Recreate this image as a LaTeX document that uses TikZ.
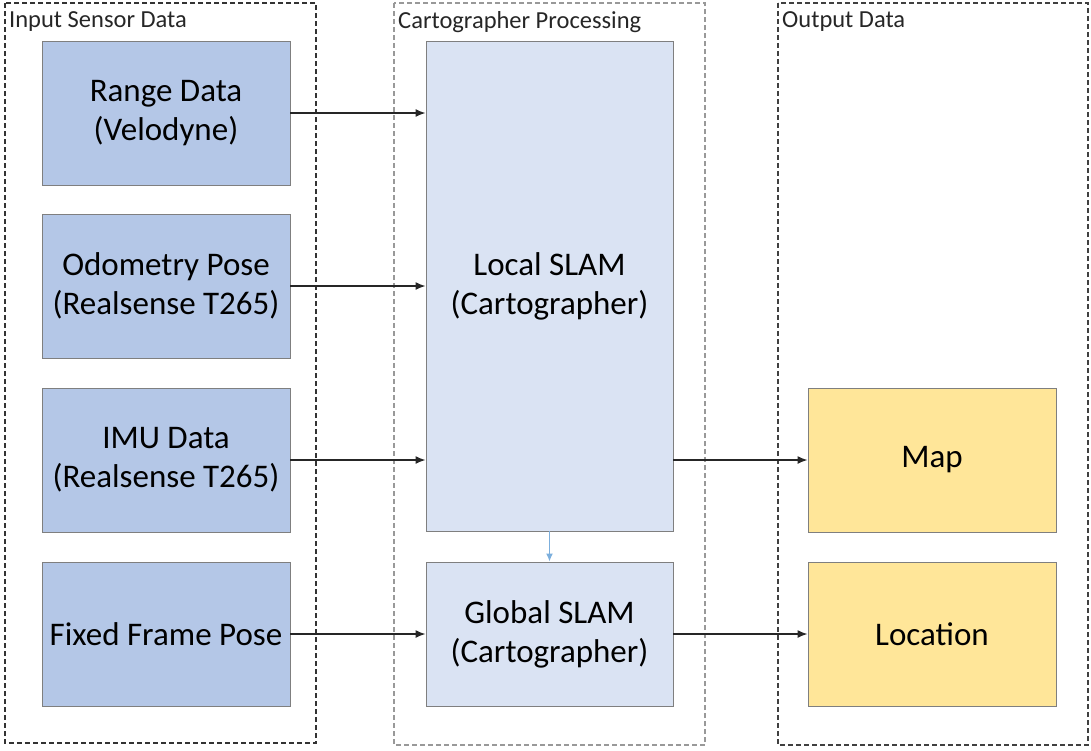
\documentclass[tikz,border=0pt]{standalone}
\usepackage{fontspec}
\setmainfont{Carlito}
\usetikzlibrary{arrows.meta}
\definecolor{inblue}{HTML}{B4C7E7}
\definecolor{midblue}{HTML}{DAE3F3}
\definecolor{outyel}{HTML}{FFE699}
\definecolor{edgegray}{HTML}{7F7F7F}
\definecolor{arrblue}{HTML}{5B9BD5}
\tikzset{
  container/.style={draw=#1, dashed, line width=1.1pt, dash pattern=on 5pt off 3pt},
  blockbox/.style={draw=edgegray, line width=0.9pt, fill=#1, align=center,
    font=\fontsize{33}{39}\selectfont, inner sep=0pt},
  header/.style={anchor=north west, font=\fontsize{24.5}{28}\selectfont, inner sep=0pt, text=black!85},
  flow/.style={-{Latex[length=10pt,width=8pt]}, line width=1.5pt, draw=black!85},
  bflow/.style={-{Latex[length=8pt,width=7pt]}, line width=1.4pt, draw=arrblue!80},
}
\begin{document}
\begin{tikzpicture}[x=1pt,y=-1pt]
\useasboundingbox (0,0) rectangle (1091,750);
% containers
\draw[container=black!80] (5,3) rectangle (316,743);
\draw[container=black!40] (394,3) rectangle (705,745);
\draw[container=black!75] (778,3) rectangle (1088,745);
\node[header] (h1) at (9,11) {Input Sensor Data};
\node[header] (h2) at (398,11) {Cartographer Processing};
\node[header] (h3) at (782,11) {Output Data};
% input boxes
\node[blockbox=inblue, minimum width=248pt, minimum height=144pt] (range) at (166,113) {Range Data\\(Velodyne)};
\node[blockbox=inblue, minimum width=248pt, minimum height=144pt] (odom) at (166,286) {Odometry Pose\\(Realsense T265)};
\node[blockbox=inblue, minimum width=248pt, minimum height=144pt] (imu) at (166,460) {IMU Data\\(Realsense T265)};
\node[blockbox=inblue, minimum width=248pt, minimum height=144pt] (fixed) at (166,634) {Fixed Frame Pose};
% processing
\node[blockbox=midblue, minimum width=247pt, minimum height=490pt] (local) at (549.5,286) {Local SLAM\\(Cartographer)};
\node[blockbox=midblue, minimum width=247pt, minimum height=144pt] (global) at (549.5,634) {Global SLAM\\(Cartographer)};
% output
\node[blockbox=outyel, minimum width=248pt, minimum height=144pt] (map) at (932,460) {Map};
\node[blockbox=outyel, minimum width=248pt, minimum height=144pt] (loc) at (932,634) {Location};
% arrows
\draw[flow] (range.east) -- (range.east -| local.west);
\draw[flow] (odom.east) -- (odom.east -| local.west);
\draw[flow] (imu.east) -- (imu.east -| local.west);
\draw[flow] (fixed.east) -- (global.west);
\draw[flow] (map.west -| local.east) -- (map.west);
\draw[flow] (global.east) -- (loc.west);
\draw[bflow] (local.south) -- (global.north);
\end{tikzpicture}
\end{document}
